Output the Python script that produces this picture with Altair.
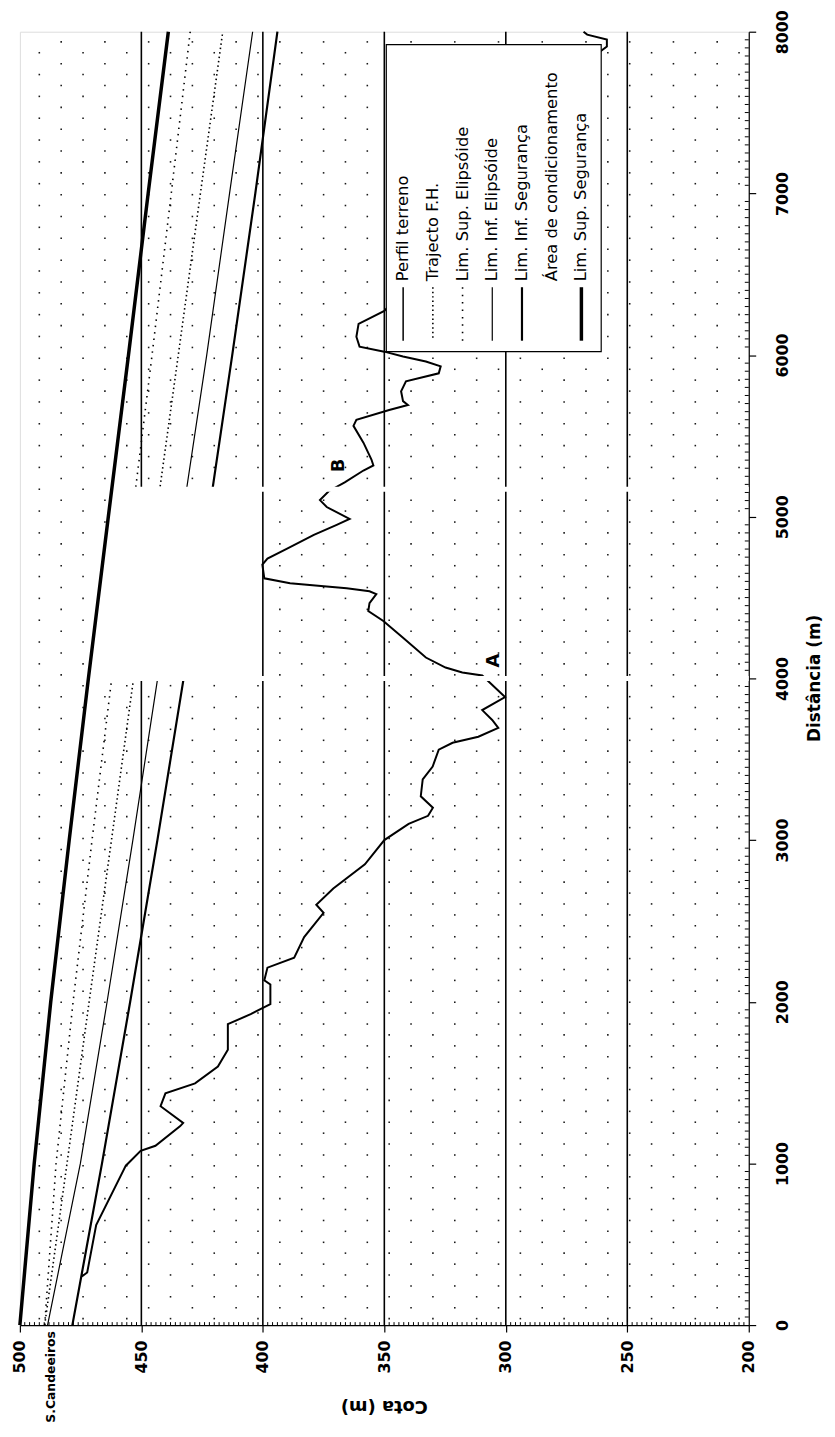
import altair as alt
import pandas as pd
import numpy as np

# ---------------- data ----------------
DIST = [0, 1000, 2000, 3000, 4000, 5000, 6000, 7000, 8000]
TRAJ = [489.8, 480.6, 471.5, 462.3, 453.2, 444.0, 434.8, 425.7, 416.5]
SUP_EL = [489.8, 485.1, 478.1, 470.3, 462.2, 453.8, 445.6, 437.7, 429.9]
INF_EL = [488.6, 475.1, 464.1, 453.5, 443.3, 433.1, 423.1, 413.7, 404.2]
INF_SEG = [478.4, 466.2, 454.6, 443.4, 432.6, 422.4, 412.6, 403.1, 394.0]
SUP_SEG = [500.0, 494.1, 487.3, 479.7, 471.8, 463.6, 455.3, 447.2, 438.9]

TERRAIN_D = [300, 325, 619, 986, 1078, 1109, 1231, 1250, 1354, 1433, 1495, 1599,
             1703, 1862, 1923, 1954, 1985, 2107, 2132, 2211, 2273, 2400, 2550,
             2600, 2700, 2850, 3000, 3100, 3150, 3200, 3271, 3375, 3455, 3559,
             3602, 3639, 3694, 3743, 3804, 3884, 4018, 4037, 4067, 4129, 4251,
             4355, 4417, 4466, 4521, 4539, 4557, 4570, 4588, 4619, 4704, 4741,
             4803, 4888, 4950, 4986, 5060, 5103, 5158, 5213, 5286, 5317, 5354,
             5458, 5562, 5599, 5660, 5691, 5715, 5776, 5838, 5887, 5930, 5960,
             5991, 6021, 6052, 6113, 6193, 6273, 6600, 7000, 7400, 7800, 7908,
             7951, 7982, 8000]
TERRAIN_C = [474.5, 472.3, 468.6, 456.4, 450.3, 444.2, 434.0, 432.8, 442.1, 440.1,
             427.9, 418.5, 414.4, 414.4, 405.0, 401.0, 396.9, 396.9, 399.4, 398.1,
             387.1, 383.0, 375.0, 378.0, 371.0, 358.0, 350.0, 340.0, 332.0, 330.0,
             335.0, 334.2, 330.1, 327.6, 321.9, 311.3, 303.1, 305.6, 309.7, 300.3,
             309.7, 317.9, 324.8, 332.9, 342.3, 350.4, 356.6, 356.1, 353.3, 356.1,
             365.5, 374.9, 388.8, 399.4, 400.2, 398.1, 390.0, 379.0, 369.6, 364.3,
             373.7, 376.5, 372.9, 366.3, 358.6, 354.5, 355.3, 358.6, 362.7, 361.5,
             348.0, 340.3, 342.3, 343.1, 341.1, 327.6, 326.8, 332.9, 342.3, 350.0,
             360.2, 361.5, 360.6, 350.0, 330.0, 310.0, 290.0, 268.0, 258.4, 258.4,
             266.5, 268.0]

AREA_D = [4000, 5170]
AREA_TOP = [471.8, 462.2]
AREA_BOTTOM = [401.5, 401.5]

GRID_COTA = [450, 400, 350, 300, 250]
COTA_TICKS = [500, 450, 400, 350, 300, 250, 200]
DIST_TICKS = [0, 1000, 2000, 3000, 4000, 5000, 6000, 7000, 8000]

POINT_LABELS = ["A", "B"]
POINT_D = [4110, 5317]
POINT_C = [305.0, 368.8]

SITE_LABEL = "S.Candeeiros"
SITE_C = 487.0

X_TITLE = "Cota (m)"
Y_TITLE = "Distância (m)"

LEGEND_LABELS = ["Perfil terreno", "Trajecto F.H.", "Lim. Sup. Elipsóide",
                 "Lim. Inf. Elipsóide", "Lim. Inf. Segurança",
                 "Área de condicionamento", "Lim. Sup. Segurança"]

# ---------------- layout / style ----------------
W, H = 736, 1306
FONT = "DejaVu Sans"

X_ENC = alt.X("c:Q",
              scale=alt.Scale(domain=[200, 500], reverse=True, nice=False, zero=False),
              axis=alt.Axis(values=COTA_TICKS, format="d", labelAngle=270,
                            labelAlign="right", labelBaseline="middle", tickSize=7,
                            labelPadding=8, labelFont=FONT, labelFontSize=16,
                            labelFontWeight="bold", labelColor="black",
                            domainColor="black", tickColor="black", domainWidth=1.2,
                            tickWidth=1.2, grid=False, labelFlush=False,
                            labelOverlap=False, title=None))
Y_ENC = alt.Y("d:Q",
              scale=alt.Scale(domain=[0, 8000], nice=False, zero=False),
              axis=alt.Axis(orient="right", values=DIST_TICKS, format="d",
                            labelAngle=270, labelAlign="center", labelBaseline="top",
                            tickSize=7, labelPadding=19, labelFont=FONT,
                            labelFontSize=16, labelFontWeight="bold",
                            labelColor="black", domainColor="black",
                            tickColor="black", domainWidth=1.2, tickWidth=1.2,
                            grid=False, labelFlush=False, labelOverlap=False,
                            title=None))

# background stipple texture (Excel dotted fill)
tex = []
for j, cc in enumerate(np.arange(204, 500, 9.0)):
    off = 0 if j % 2 == 0 else 67
    for dd in np.arange(40 + off, 8000, 135):
        tex.append({"d": float(dd), "c": float(cc)})
tex_df = pd.DataFrame(tex)

layers = []
layers.append(alt.Chart(tex_df).mark_square(size=2.5, color="black", opacity=0.9)
              .encode(x=X_ENC, y=Y_ENC))

grid_df = pd.DataFrame({"c": GRID_COTA})
layers.append(alt.Chart(grid_df).mark_rule(color="black", strokeWidth=1.6)
              .encode(x=X_ENC))


def series_df(vals):
    return pd.DataFrame({"d": DIST, "c": vals})


layers.append(alt.Chart(series_df(TRAJ)).mark_line(color="black", strokeWidth=1.6,
                                                   strokeDash=[1.5, 3])
              .encode(x=X_ENC, y=Y_ENC, order="d:Q"))
layers.append(alt.Chart(series_df(SUP_EL)).mark_line(color="black", strokeWidth=1.6,
                                                     strokeDash=[1.5, 5])
              .encode(x=X_ENC, y=Y_ENC, order="d:Q"))
layers.append(alt.Chart(series_df(INF_EL)).mark_line(color="black", strokeWidth=1.2)
              .encode(x=X_ENC, y=Y_ENC, order="d:Q"))
layers.append(alt.Chart(series_df(INF_SEG)).mark_line(color="black", strokeWidth=2.2)
              .encode(x=X_ENC, y=Y_ENC, order="d:Q"))

terr_df = pd.DataFrame({"d": TERRAIN_D, "c": TERRAIN_C, "i": range(len(TERRAIN_D))})
layers.append(alt.Chart(terr_df).mark_line(color="black", strokeWidth=2)
              .encode(x=X_ENC, y=Y_ENC, order="i:Q"))

area_df = pd.DataFrame({"d": AREA_D, "c": AREA_TOP, "c2": AREA_BOTTOM})
layers.append(alt.Chart(area_df).mark_area(color="white", opacity=1, orient="vertical")
              .encode(y=Y_ENC, x=X_ENC, x2="c2:Q"))

stripe_df = pd.DataFrame({"d": AREA_D, "c": AREA_TOP, "c2": [200, 200]})
layers.append(alt.Chart(stripe_df).mark_rule(color="white", strokeWidth=5)
              .encode(y=Y_ENC, x=X_ENC, x2="c2:Q"))

layers.append(alt.Chart(series_df(SUP_SEG)).mark_line(color="black", strokeWidth=3.5)
              .encode(x=X_ENC, y=Y_ENC, order="d:Q"))

pt_df = pd.DataFrame({"d": POINT_D, "c": POINT_C, "t": POINT_LABELS})
layers.append(alt.Chart(pt_df).mark_text(angle=270, font=FONT, fontSize=18,
                                         fontWeight="bold", color="black")
              .encode(x=X_ENC, y=Y_ENC, text="t:N"))

site_df = pd.DataFrame({"c": [SITE_C], "t": [SITE_LABEL]})
layers.append(alt.Chart(site_df).mark_text(angle=270, align="right", baseline="middle",
                                           font=FONT, fontSize=12.5, fontWeight="bold",
                                           color="black")
              .encode(x=X_ENC, y=alt.value(H + 6), text="t:N"))

# minor ticks (inside)
minor_c = pd.DataFrame({"c": [v for v in range(202, 500, 2) if v % 50 != 0]})
layers.append(alt.Chart(minor_c).mark_rule(color="black", strokeWidth=1)
              .encode(x=X_ENC, y=alt.value(H), y2=alt.value(H - 3)))
minor_d = pd.DataFrame({"d": [v for v in range(50, 8000, 50) if v % 1000 != 0]})
layers.append(alt.Chart(minor_d).mark_rule(color="black", strokeWidth=1)
              .encode(y=Y_ENC, x=alt.value(W), x2=alt.value(W - 4)))

# axis titles, turned like the rest of the page
one = pd.DataFrame({"k": [0]})
layers.append(alt.Chart(one).mark_text(angle=180, align="center", baseline="middle",
                                       font=FONT, fontSize=18, fontWeight="bold",
                                       color="black", text=X_TITLE)
              .encode(x=alt.value(W / 2), y=alt.value(H + 82)))
layers.append(alt.Chart(one).mark_text(angle=270, align="center", baseline="middle",
                                       font=FONT, fontSize=17, fontWeight="bold",
                                       color="black", text=Y_TITLE)
              .encode(x=alt.value(W + 67), y=alt.value(H / 2)))

# legend (drawn by hand, rotated like the page)
LX0, LX1, LY0, LY1 = 370, 587, 13, 323
layers.append(alt.Chart(one).mark_rect(fill="white", stroke="black", strokeWidth=1.2)
              .encode(x=alt.value(LX0), x2=alt.value(LX1), y=alt.value(LY0),
                      y2=alt.value(LY1)))
leg_styles = [
    {"w": 1.5, "dash": None},
    {"w": 1.6, "dash": [1.5, 3]},
    {"w": 1.6, "dash": [1.5, 6]},
    {"w": 1.2, "dash": None},
    {"w": 2.2, "dash": None},
    None,
    {"w": 3.5, "dash": None},
]
for i, (lab, st) in enumerate(zip(LEGEND_LABELS, leg_styles)):
    cx = 387 + 30 * i
    layers.append(alt.Chart(one).mark_text(angle=270, align="left", baseline="middle",
                                           font=FONT, fontSize=16.5, color="black",
                                           text=lab)
                  .encode(x=alt.value(cx), y=alt.value(252)))
    if st is not None:
        kw = {"color": "black", "strokeWidth": st["w"]}
        if st["dash"]:
            kw["strokeDash"] = st["dash"]
        layers.append(alt.Chart(one).mark_rule(**kw)
                      .encode(x=alt.value(cx), y=alt.value(258), y2=alt.value(312)))

chart = (alt.layer(*layers)
         .properties(width=W, height=H,
                     autosize=alt.AutoSizeParams(type="none"),
                     padding={"left": 12, "top": 17, "right": 79, "bottom": 100})
         .configure_view(stroke="black", strokeDash=[1, 2], strokeWidth=1.2)
         .configure(background="white"))

chart.save("out.html", embed_options={"renderer": "svg", "actions": False})
